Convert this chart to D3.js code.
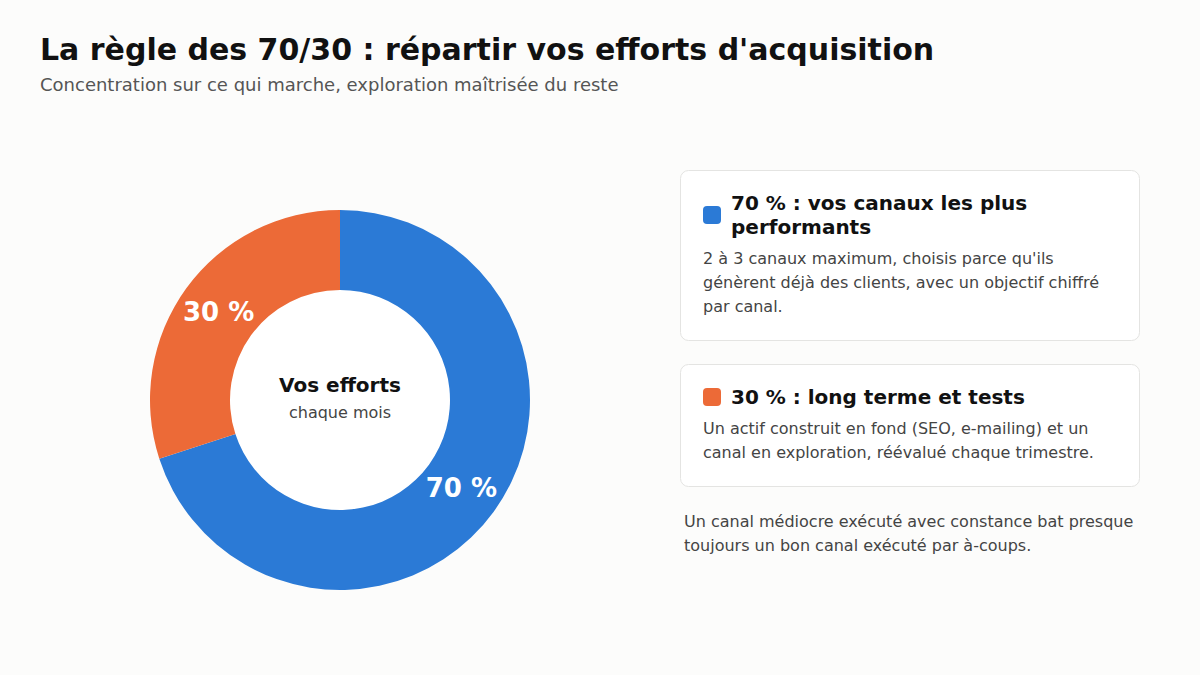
<!DOCTYPE html>
<html>
<head>
<meta charset="utf-8">
<script src="https://cdn.jsdelivr.net/npm/d3@7"></script>
<style>
  body { margin: 0; background: #fcfcfb; font-family: "DejaVu Sans", sans-serif; }
  svg { display: block; }
</style>
</head>
<body>
<svg id="chart" width="1200" height="675"></svg>
<script>
// Données
var segments = ["performants", "tests"];
var parts = [70, 30];
var partLabels = ["70 %", "30 %"];
var colors = ["#2b7ad6", "#ec6a37"];

var cardTitles = [
    ["70 % : vos canaux les plus", "performants"],
    ["30 % : long terme et tests"]
];
var cardTexts = [
    ["2 à 3 canaux maximum, choisis parce qu'ils", "génèrent déjà des clients, avec un objectif chiffré", "par canal."],
    ["Un actif construit en fond (SEO, e-mailing) et un", "canal en exploration, réévalué chaque trimestre."]
];
var footnote = ["Un canal médiocre exécuté avec constance bat presque", "toujours un bon canal exécuté par à-coups."];

var svg = d3.select("#chart");

// Titre
svg.append("text")
    .attr("x", 40).attr("y", 60)
    .attr("font-size", 30).attr("font-weight", "bold").attr("fill", "#111")
    .text("La règle des 70/30 : répartir vos efforts d'acquisition");
svg.append("text")
    .attr("x", 40).attr("y", 91)
    .attr("font-size", 18).attr("fill", "#555")
    .text("Concentration sur ce qui marche, exploration maîtrisée du reste");

// Donut
var g = svg.append("g").attr("transform", "translate(340,400)");
var pie = d3.pie().sort(null).value(d => d);
var arc = d3.arc().innerRadius(110).outerRadius(190);
var arcs = pie(parts);

g.append("circle").attr("r", 110).attr("fill", "#fff");

g.selectAll("path")
    .data(arcs)
    .enter()
    .append("path")
        .attr("d", arc)
        .attr("fill", (d, i) => colors[i]);

g.selectAll("text.pct")
    .data(arcs)
    .enter()
    .append("text")
        .attr("class", "pct")
        .attr("x", d => arc.centroid(d)[0])
        .attr("y", d => arc.centroid(d)[1])
        .attr("dy", "0.35em")
        .attr("text-anchor", "middle")
        .attr("font-size", 26).attr("font-weight", "bold").attr("fill", "#fff")
        .text((d, i) => partLabels[i]);

g.append("text")
    .attr("y", -8).attr("text-anchor", "middle")
    .attr("font-size", 20).attr("font-weight", "bold").attr("fill", "#111")
    .text("Vos efforts");
g.append("text")
    .attr("y", 18).attr("text-anchor", "middle")
    .attr("font-size", 16).attr("fill", "#444")
    .text("chaque mois");

// Cartes
var cardTop = [170, 364];
var cardHeight = [170, 122];
cardTitles.forEach(function(title, i) {
    var c = svg.append("g").attr("transform", "translate(680," + cardTop[i] + ")");
    c.append("rect")
        .attr("x", 0.5).attr("y", 0.5)
        .attr("width", 459).attr("height", cardHeight[i])
        .attr("rx", 8)
        .attr("fill", "#fff").attr("stroke", "#e4e4e2");
    // pastille centrée sur le bloc de titre
    c.append("rect")
        .attr("x", 23).attr("y", 33 + (title.length - 1) * 12 - 9)
        .attr("width", 18).attr("height", 18).attr("rx", 4)
        .attr("fill", colors[i]);
    var t = c.append("text")
        .attr("font-size", 20).attr("font-weight", "bold").attr("fill", "#111");
    title.forEach(function(line, j) {
        t.append("tspan").attr("x", 51).attr("y", 33 + j * 24).attr("dy", "0.35em").text(line);
    });
    var b = c.append("text")
        .attr("font-size", 16).attr("fill", "#444");
    var y0 = 33 + title.length * 24 + 7;
    cardTexts[i].forEach(function(line, j) {
        b.append("tspan").attr("x", 23).attr("y", y0 + j * 24).attr("dy", "0.35em").text(line);
    });
});

// Note
var n = svg.append("text").attr("font-size", 16).attr("fill", "#444");
footnote.forEach(function(line, j) {
    n.append("tspan").attr("x", 684).attr("y", 521 + j * 24).attr("dy", "0.35em").text(line);
});
</script>
</body>
</html>
